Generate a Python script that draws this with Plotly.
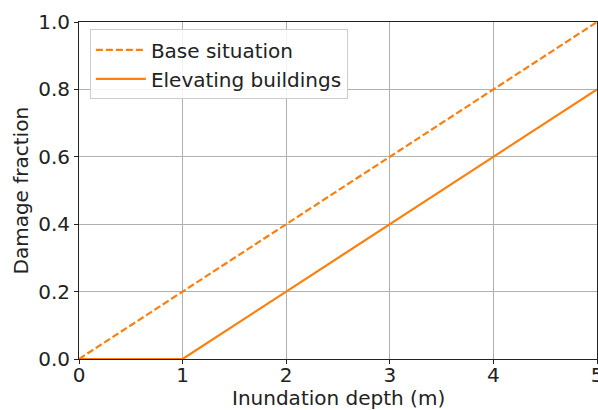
import plotly.graph_objects as go

depth = [0, 1, 2, 3, 4, 5]
base_damage = [0.0, 0.2, 0.4, 0.6, 0.8, 1.0]
elevated_damage = [0.0, 0.0, 0.2, 0.4, 0.6, 0.8]
x_ticks = [0, 1, 2, 3, 4, 5]
y_ticks = [0.0, 0.2, 0.4, 0.6, 0.8, 1.0]
x_title = "Inundation depth (m)"
y_title = "Damage fraction"

orange = "#ff7f0e"
font = "DejaVu Sans"
fs = 20

fig = go.Figure()
fig.add_trace(go.Scatter(x=depth, y=base_damage, mode="lines", name="Base situation",
                         cliponaxis=False,
                         line=dict(color=orange, width=2.2, dash="7px,3px")))
fig.add_trace(go.Scatter(x=depth, y=elevated_damage, mode="lines", name="Elevating buildings",
                         cliponaxis=False,
                         line=dict(color=orange, width=2.2)))

axis_common = dict(showline=True, linecolor="#222222", linewidth=1, mirror=True,
                   showgrid=True, gridcolor="#b0b0b0", gridwidth=1,
                   ticks="outside", ticklen=4, tickcolor="#222222",
                   tickfont=dict(family=font, size=fs, color="#222222"),
                   zeroline=False, automargin=False, layer="below traces")

fig.update_layout(
    width=598, height=410,
    margin=dict(l=79, r=1, t=22, b=51),
    plot_bgcolor="white", paper_bgcolor="white",
    font=dict(family=font, size=fs, color="#222222"),
    xaxis=dict(range=[0, 5], tickvals=x_ticks, ticktext=[str(v) for v in x_ticks],
               ticklabeloverflow="allow", ticklabelstandoff=-6, **axis_common),
    yaxis=dict(range=[0, 1], tickvals=y_ticks, ticktext=[f"{v:.1f}" for v in y_ticks],
               **axis_common),
    legend=dict(x=0.021, y=0.978, xanchor="left", yanchor="top",
                bgcolor="rgba(255,255,255,0.85)", bordercolor="#cccccc", borderwidth=1,
                font=dict(family=font, size=fs, color="#222222"),
                itemwidth=50),
    showlegend=True,
    annotations=[
        dict(text=x_title, xref="paper", yref="paper", x=0.5, y=0,
             xanchor="center", yanchor="middle", yshift=-38.5, borderpad=0, showarrow=False,
             font=dict(family=font, size=fs, color="#222222")),
        dict(text=y_title, xref="paper", yref="paper", x=0, y=0.5,
             xanchor="center", yanchor="middle", xshift=-59, textangle=-90, showarrow=False,
             font=dict(family=font, size=fs, color="#222222")),
    ],
)

fig.write_html("out.html")
